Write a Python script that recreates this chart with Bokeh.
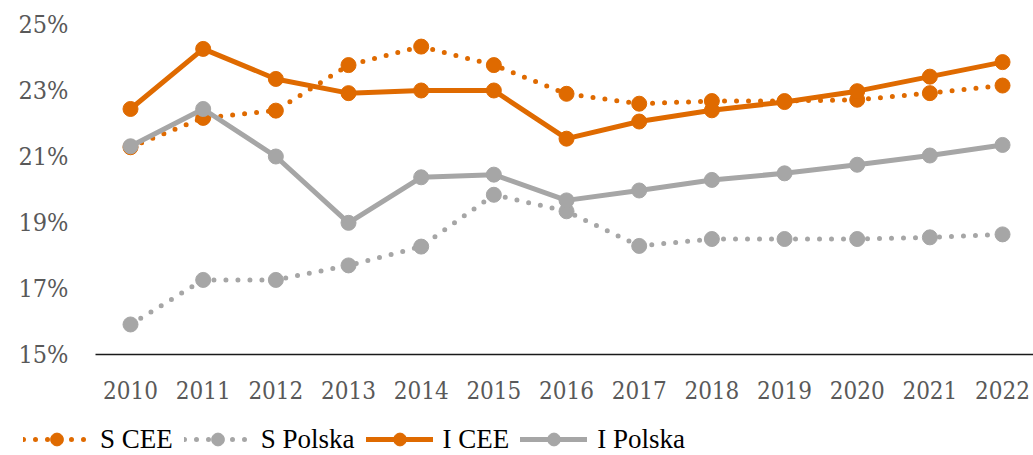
from bokeh.plotting import figure
from bokeh.models import ColumnDataSource, Range1d, FixedTicker, Legend, LegendItem
from bokeh.embed import file_html
from bokeh.resources import INLINE

years = [2010, 2011, 2012, 2013, 2014, 2015, 2016, 2017, 2018, 2019, 2020, 2021, 2022]
s_cee = [21.28, 22.17, 22.39, 23.77, 24.33, 23.77, 22.90, 22.60, 22.68, 22.68, 22.72, 22.92, 23.15]
s_polska = [15.91, 17.26, 17.26, 17.70, 18.27, 19.84, 19.34, 18.29, 18.50, 18.50, 18.50, 18.55, 18.64]
i_cee = [22.44, 24.26, 23.35, 22.92, 23.00, 23.00, 21.54, 22.06, 22.40, 22.65, 22.98, 23.42, 23.86]
i_polska = [21.31, 22.44, 21.00, 18.99, 20.37, 20.45, 19.67, 19.97, 20.29, 20.49, 20.75, 21.03, 21.35]
y_ticks = [15, 17, 19, 21, 23, 25]
series_names = ["S CEE", "S Polska", "I CEE", "I Polska"]

ORANGE = "#DF6A00"
GRAY = "#A6A6A6"

X0, X1 = 2008.211, 2022.426
Y0, Y1 = 11.94, 25.727
AXIS_X = 2009.518

p = figure(width=1033, height=455, output_backend="svg", toolbar_location=None,
           x_range=Range1d(X0, X1), y_range=Range1d(Y0, Y1),
           min_border_left=0, min_border_right=0, min_border_top=0, min_border_bottom=0)
p.outline_line_color = None
p.xgrid.visible = False
p.ygrid.visible = False
p.background_fill_color = "white"
p.border_fill_color = "white"

TICK_FONT = "DejaVu Serif Condensed, Liberation Serif"
LEGEND_FONT = "serif"

p.yaxis.fixed_location = AXIS_X
p.yaxis.bounds = (15, 25.25)
p.yaxis.ticker = FixedTicker(ticks=y_ticks)
p.yaxis.major_label_overrides = {t: f"{t}%" for t in y_ticks}
p.yaxis.axis_line_color = None
p.yaxis.major_tick_line_color = None
p.yaxis.minor_tick_line_color = None
p.yaxis.major_label_standoff = 21
p.yaxis.major_label_text_font = TICK_FONT
p.yaxis.major_label_text_font_size = "25px"
p.yaxis.major_label_text_color = "#595959"

p.xaxis.fixed_location = 15
p.xaxis.bounds = (AXIS_X, X1)
p.xaxis.ticker = FixedTicker(ticks=years)
p.xaxis.major_label_overrides = {y: str(y) for y in years}
p.xaxis.axis_line_color = "#1a1a1a"
p.xaxis.axis_line_width = 1.5
p.xaxis.major_tick_line_color = None
p.xaxis.minor_tick_line_color = None
p.xaxis.major_label_standoff = 20
p.xaxis.major_label_text_font = TICK_FONT
p.xaxis.major_label_text_font_size = "24px"
p.xaxis.major_label_text_color = "#595959"

data = [s_cee, s_polska, i_cee, i_polska]
colors = [ORANGE, GRAY, ORANGE, GRAY]
dashes = ["0 12", "0 12", "solid", "solid"]

items = []
for name, vals, c, d in zip(series_names, data, colors, dashes):
    src = ColumnDataSource(dict(x=years, y=vals))
    ln = p.line("x", "y", source=src, line_color=c, line_width=5, line_dash=d,
                line_cap="round", line_join="round")
    sc = p.scatter("x", "y", source=src, size=15, fill_color=c, line_color=c, marker="circle")
    items.append(LegendItem(label=name, renderers=[ln, sc]))

legend = Legend(items=items, orientation="horizontal", location=(23, 0),
                glyph_width=67, glyph_height=32, label_height=24, label_standoff=10, spacing=11,
                padding=0, margin=0, border_line_color=None, background_fill_alpha=0,
                label_text_font=LEGEND_FONT, label_text_font_size="27px",
                label_text_color="black")
p.add_layout(legend, "center")

open("out.html", "w").write(file_html(p, INLINE))
